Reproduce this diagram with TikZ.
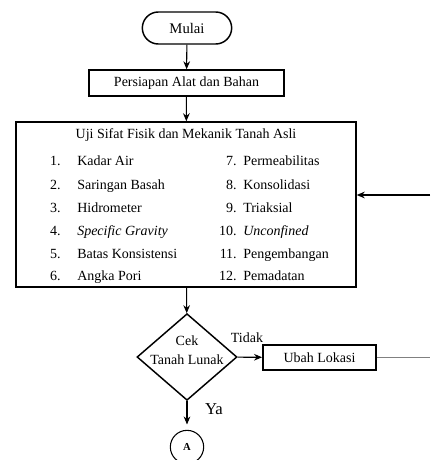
\documentclass[tikz,border=0pt]{standalone}
\usepackage{fontspec}
\setmainfont{Liberation Serif}
\usetikzlibrary{arrows.meta,shapes.geometric}
\tikzset{
>={Stealth[length=6pt,width=5pt]},
kotak/.style={draw,line width=1.1pt,inner sep=2pt},
mulai/.style={draw,line width=1.1pt,rounded corners=12pt,minimum width=67pt,minimum height=24pt},
keputusan/.style={diamond,draw,line width=1.1pt,inner sep=0pt,minimum width=75pt,minimum height=65pt},
konektor/.style={circle,draw,line width=0.8pt,minimum size=25pt,inner sep=0pt,font=\footnotesize\bfseries},
nomor/.style={anchor=east,text height=7.5pt,text depth=2.5pt,inner sep=0pt},
isi/.style={anchor=west,text height=7.5pt,text depth=2.5pt,inner sep=0pt},
panah/.style={->,line width=0.8pt}}

\begin{document}
\begin{tikzpicture}[x=0.75pt,y=-0.75pt,font=\fontsize{10.5}{12.6}\selectfont]
\useasboundingbox (0,0) rectangle (430,460);

\node[mulai,font=\fontsize{11}{13}\selectfont] (mulai) at (187,28) {Mulai};
\node[kotak,minimum width=146pt,minimum height=19.5pt] (persiapan) at (186.5,83) {Persiapan Alat dan Bahan};
\node[kotak,minimum width=255pt,minimum height=123.75pt] (uji) at (186,204.5) {};
\node (judul) at (186,135) {Uji Sifat Fisik dan Mekanik Tanah Asli};

\node[nomor] (n1) at (61,162) {1.};
\node[isi] (t1) at (77,162) {Kadar Air};
\node[nomor] (n2) at (61,186) {2.};
\node[isi] (t2) at (77,186) {Saringan Basah};
\node[nomor] (n3) at (61,209) {3.};
\node[isi] (t3) at (77,209) {Hidrometer};
\node[nomor] (n4) at (61,232) {4.};
\node[isi] (t4) at (77,232) {\itshape Specific Gravity};
\node[nomor] (n5) at (61,255) {5.};
\node[isi] (t5) at (77,255) {Batas Konsistensi};
\node[nomor] (n6) at (61,277) {6.};
\node[isi] (t6) at (77,277) {Angka Pori};

\node[nomor] (n7) at (237,162) {7.};
\node[isi] (t7) at (243,162) {Permeabilitas};
\node[nomor] (n8) at (237,186) {8.};
\node[isi] (t8) at (243,186) {Konsolidasi};
\node[nomor] (n9) at (237,209) {9.};
\node[isi] (t9) at (243,209) {Triaksial};
\node[nomor] (n10) at (237,232) {10.};
\node[isi] (t10) at (243,232) {\itshape Unconfined};
\node[nomor] (n11) at (237,255) {11.};
\node[isi] (t11) at (243,255) {Pengembangan};
\node[nomor] (n12) at (237,277) {12.};
\node[isi] (t12) at (243,277) {Pemadatan};

\node[keputusan] (cek) at (187,357) {};
\node[align=center,inner sep=0pt] (cekteks) at (187,350) {Cek\\[2pt]Tanah Lunak};
\node[kotak,line width=1.4pt,minimum width=84.75pt,minimum height=18.75pt] (ubah) at (319.5,357.5) {Ubah Lokasi};
\node (tidak) at (247,338) {Tidak};
\node[font=\fontsize{12.5}{15}\selectfont] (ya) at (214,409) {Ya};
\node[konektor] (a) at (187,447) {A};

\coordinate (kanan) at (430,195);
\coordinate (kanan2) at (430,357.5);

\path[panah] (mulai) edge (persiapan);
\path[panah] (persiapan) edge (uji);
\path[panah] (uji) edge (cek);
\path[panah] (cek) edge (ubah);
\path[panah,shorten >=4pt] (cek) edge (a);
\draw[panah] (kanan) -- (uji.east |- kanan);
\draw[gray,line width=0.5pt] (ubah) -- (kanan2);

\end{tikzpicture}
\end{document}
